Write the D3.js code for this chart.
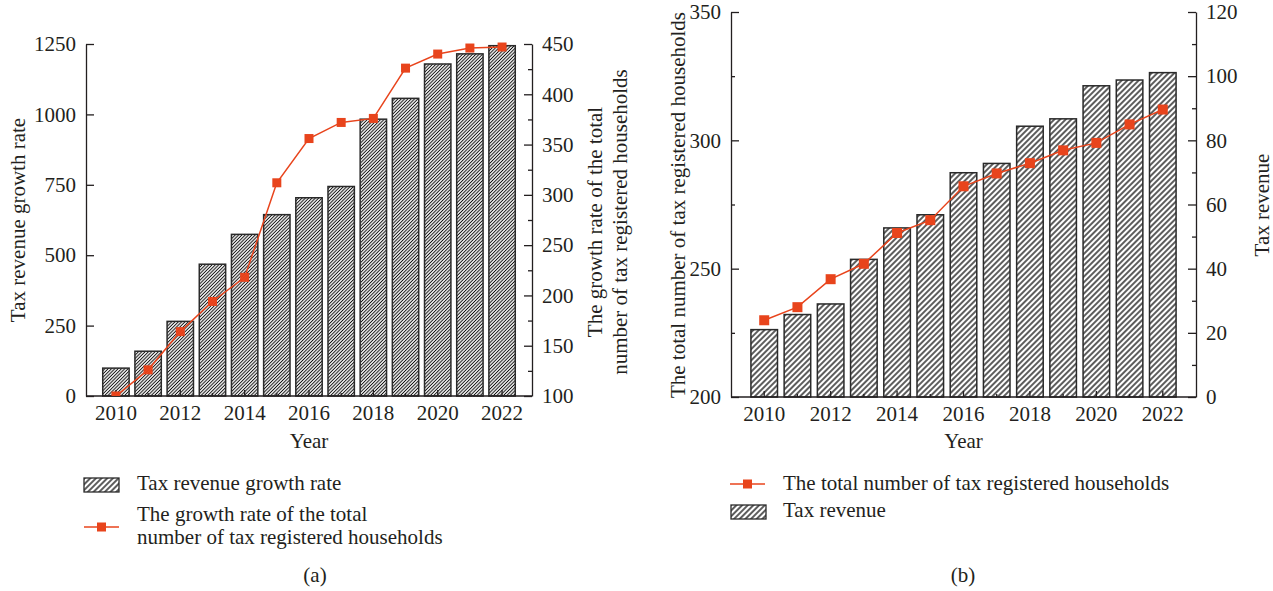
<!DOCTYPE html>
<html>
<head>
<meta charset="utf-8">
<script src="https://cdn.jsdelivr.net/npm/d3@7"></script>
<style>
  body { margin: 0; background: #fff; }
</style>
</head>
<body>
<svg id="chart" width="1273" height="591"></svg>
<script>
// ---- data ----
const years = [2010, 2011, 2012, 2013, 2014, 2015, 2016, 2017, 2018, 2019, 2020, 2021, 2022];
const yearLabels = [2010, 2012, 2014, 2016, 2018, 2020, 2022];

// panel (a)
const taxRevenueGrowthRate = [99, 159, 265, 468, 574, 644, 704, 744, 983, 1057, 1179, 1215, 1244];
const householdGrowthRate = [100, 126, 164, 194, 218, 312, 356, 372, 376, 426, 440, 446, 447];
const ticksA_left = [0, 250, 500, 750, 1000, 1250];
const ticksA_right = [100, 150, 200, 250, 300, 350, 400, 450];
const minorA_right = [125, 175, 225, 275, 325, 375, 425];

// panel (b)
const householdsTotal = [229.9, 235.0, 245.9, 251.9, 263.9, 268.9, 282.1, 287.1, 291.1, 296.1, 299.0, 306.2, 312.0];
const taxRevenue = [21.0, 25.7, 29.0, 42.9, 52.7, 56.8, 69.9, 72.8, 84.4, 86.7, 97.0, 98.8, 101.1];
const ticksB_left = [200, 250, 300, 350];
const minorB_left = [225, 275, 325];
const ticksB_right = [0, 20, 40, 60, 80, 100, 120];
const minorB_right = [10, 30, 50, 70, 90, 110];

// ---- style ----
const FONT = '"Liberation Serif", "Times New Roman", serif';
const FS = 21;
const INK = "#231f20";
const RED = "#e8441c";
const BAR_STROKE = "#2a2a2a";

const svg = d3.select("#chart");
svg.append("rect").attr("width", 1273).attr("height", 591).attr("fill", "#fff");
const defs = svg.append("defs");

function hatch(id, size, sw) {
  const p = defs.append("pattern")
    .attr("id", id)
    .attr("patternUnits", "userSpaceOnUse")
    .attr("width", size).attr("height", size)
    .attr("patternTransform", "rotate(45)");
  p.append("rect").attr("width", size).attr("height", size).attr("fill", "#fff");
  p.append("line")
    .attr("x1", size / 2).attr("x2", size / 2)
    .attr("y1", 0).attr("y2", size)
    .attr("stroke", "#0e0e0e").attr("stroke-width", sw);
}
hatch("hatchDense", 2.35, 1.0);
hatch("hatchSparse", 4.0, 1.35);

const fmt = d3.format("d");

function styleAxis(g) {
  g.attr("font-family", FONT).attr("font-size", FS);
  g.select(".domain").attr("stroke", INK).attr("stroke-width", 1.3);
  g.selectAll(".tick line").attr("stroke", INK).attr("stroke-width", 1.3);
  g.selectAll(".tick text").attr("fill", INK);
}

function text(x, y, str, opts = {}) {
  const t = svg.append("text")
    .attr("x", x).attr("y", y)
    .attr("font-family", FONT).attr("font-size", opts.size || FS)
    .attr("fill", INK)
    .attr("text-anchor", opts.anchor || "start")
    .text(str);
  if (opts.rotate) t.attr("transform", `rotate(${opts.rotate},${x},${y})`);
  return t;
}

function panel(cfg) {
  const { x0, x1, yTop, yBot } = cfg;
  const x = d3.scaleBand().domain(years).range([x0, x1])
    .paddingInner(cfg.padIn).paddingOuter(cfg.padOut);
  const yBar = d3.scaleLinear().domain(cfg.barDomain).range([yBot, yTop]);
  const yLine = d3.scaleLinear().domain(cfg.lineDomain).range([yBot, yTop]);

  const g = svg.append("g");

  // bars
  g.append("g").selectAll("rect")
    .data(years.map((yr, i) => ({ yr, v: cfg.barValues[i] })))
    .join("rect")
    .attr("x", d => x(d.yr))
    .attr("y", d => yBar(d.v))
    .attr("width", x.bandwidth())
    .attr("height", d => yBar(cfg.barDomain[0]) - yBar(d.v))
    .attr("fill", `url(#${cfg.pattern})`)
    .attr("stroke", BAR_STROKE)
    .attr("stroke-width", 1.5);

  // axes (ticks point inward)
  const leftScale = cfg.barSide === "left" ? yBar : yLine;
  const rightScale = cfg.barSide === "left" ? yLine : yBar;

  const leftG = g.append("g").attr("transform", `translate(${x0},0)`)
    .call(d3.axisLeft(leftScale).tickValues(cfg.leftTicks).tickFormat(fmt)
      .tickSizeInner(-8).tickSizeOuter(0).tickPadding(10));
  styleAxis(leftG);
  if (cfg.leftMinor) {
    const m = g.append("g").attr("transform", `translate(${x0},0)`)
      .call(d3.axisLeft(leftScale).tickValues(cfg.leftMinor).tickSizeInner(-4).tickSizeOuter(0).tickFormat(""));
    styleAxis(m); m.select(".domain").remove();
  }
  const rightG = g.append("g").attr("transform", `translate(${x1},0)`)
    .call(d3.axisRight(rightScale).tickValues(cfg.rightTicks).tickFormat(fmt)
      .tickSizeInner(-8).tickSizeOuter(0).tickPadding(10));
  styleAxis(rightG);
  if (cfg.rightMinor) {
    const m = g.append("g").attr("transform", `translate(${x1},0)`)
      .call(d3.axisRight(rightScale).tickValues(cfg.rightMinor).tickSizeInner(-4).tickSizeOuter(0).tickFormat(""));
    styleAxis(m); m.select(".domain").remove();
  }

  const bottomG = g.append("g").attr("transform", `translate(0,${yBot})`)
    .call(d3.axisBottom(x).tickValues(yearLabels).tickSizeInner(-6).tickSizeOuter(0).tickPadding(8));
  styleAxis(bottomG);
  bottomG.select(".domain").attr("d", `M${x0},0H${x1}`);
  const bottomMinor = g.append("g").attr("transform", `translate(0,${yBot})`)
    .call(d3.axisBottom(x).tickValues(years.filter(y => !yearLabels.includes(y))).tickSizeInner(-3).tickSizeOuter(0).tickFormat(""));
  styleAxis(bottomMinor); bottomMinor.select(".domain").remove();
  bottomG.selectAll(".tick text").attr("dy", "0.74em");

  // line + markers, clipped to the plot area
  const clipId = cfg.id + "-clip";
  defs.append("clipPath").attr("id", clipId)
    .append("rect").attr("x", x0).attr("y", yTop - 10).attr("width", x1 - x0).attr("height", yBot - yTop + 10);
  const lg = g.append("g").attr("clip-path", `url(#${clipId})`);
  const cx = yr => x(yr) + x.bandwidth() / 2;
  const pts = years.map((yr, i) => [cx(yr), yLine(cfg.lineValues[i])]);
  lg.append("path")
    .attr("d", d3.line()(pts))
    .attr("fill", "none").attr("stroke", RED).attr("stroke-width", 1.5);
  const ms = cfg.markerSize;
  lg.selectAll("rect.mk").data(pts).join("rect").attr("class", "mk")
    .attr("x", d => d[0] - ms / 2).attr("y", d => d[1] - ms / 2)
    .attr("width", ms).attr("height", ms).attr("fill", RED);

  // x-axis title
  text((x0 + x1) / 2, 448, "Year", { anchor: "middle" });
}

// ---- panel (a) ----
panel({
  id: "a", x0: 86, x1: 532, yTop: 44, yBot: 396,
  padIn: 0.18, padOut: 0.52,
  barDomain: [0, 1250], lineDomain: [100, 450],
  barValues: taxRevenueGrowthRate, lineValues: householdGrowthRate,
  barSide: "left", pattern: "hatchDense", markerSize: 9,
  leftTicks: ticksA_left, rightTicks: ticksA_right, rightMinor: minorA_right
});
text(25, 220, "Tax revenue growth rate", { anchor: "middle", rotate: -90 });
text(602, 222, "The growth rate of the total", { anchor: "middle", rotate: -90 });
text(627, 222, "number of tax registered households", { anchor: "middle", rotate: -90 });

// ---- panel (b) ----
panel({
  id: "b", x0: 731, x1: 1196, yTop: 12, yBot: 397,
  padIn: 0.2, padOut: 0.6,
  barDomain: [0, 120], lineDomain: [200, 350],
  barValues: taxRevenue, lineValues: householdsTotal,
  barSide: "right", pattern: "hatchSparse", markerSize: 10,
  leftTicks: ticksB_left, leftMinor: minorB_left, rightTicks: ticksB_right, rightMinor: minorB_right
});
text(685, 205, "The total number of tax registered households", { anchor: "middle", rotate: -90 });
text(1269, 205, "Tax revenue", { anchor: "middle", rotate: -90 });

// ---- legends ----
function swatchBar(x, y) {
  svg.append("rect").attr("x", x).attr("y", y).attr("width", 35).attr("height", 14)
    .attr("fill", "url(#hatchSparse)").attr("stroke", BAR_STROKE).attr("stroke-width", 1.3);
}
function swatchLine(x, y) {
  svg.append("line").attr("x1", x).attr("x2", x + 35).attr("y1", y).attr("y2", y)
    .attr("stroke", RED).attr("stroke-width", 1.5);
  svg.append("rect").attr("x", x + 17.5 - 4.5).attr("y", y - 4.5).attr("width", 9).attr("height", 9).attr("fill", RED);
}

swatchBar(84, 478);
text(137, 490, "Tax revenue growth rate");
swatchLine(84, 527);
text(137, 521, "The growth rate of the total");
text(137, 544, "number of tax registered households");
text(315, 582, "(a)", { anchor: "middle" });

swatchLine(730, 484);
text(783, 490, "The total number of tax registered households");
swatchBar(731, 505);
text(783, 517, "Tax revenue");
text(963, 582, "(b)", { anchor: "middle" });
</script>
</body>
</html>
